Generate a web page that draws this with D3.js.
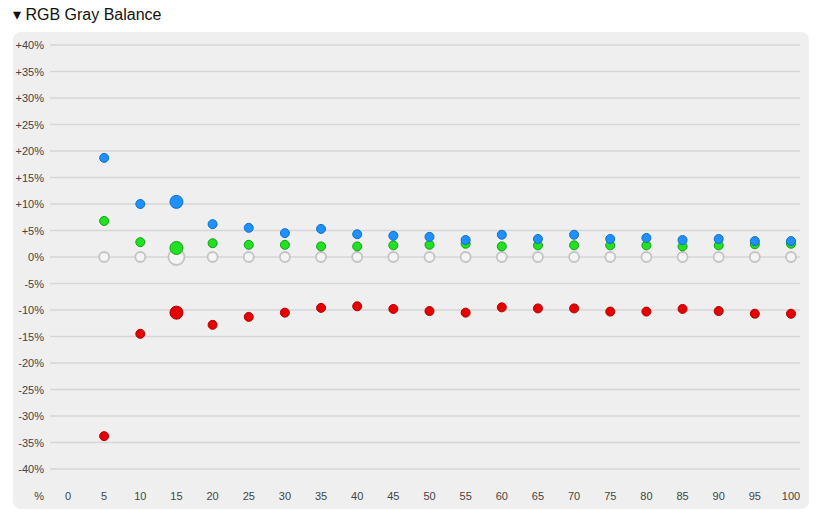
<!DOCTYPE html><html><head><script src="https://cdn.jsdelivr.net/npm/d3@7"></script>
<style>body{margin:0;background:#fff;font-family:Arial,"Liberation Sans",sans-serif}</style></head><body><svg id="c" width="829" height="524"></svg>
<script>
const xs=[5,10,15,20,25,30,35,40,45,50,55,60,65,70,75,80,85,90,95,100];
const blue=[18.7,10,10.4,6.2,5.5,4.5,5.3,4.3,4.0,3.8,3.2,4.2,3.4,4.2,3.4,3.6,3.2,3.4,3.0,3.0];
const green=[6.8,2.8,1.7,2.6,2.3,2.3,2.0,2.0,2.2,2.3,2.5,2.0,2.2,2.2,2.2,2.2,2.0,2.2,2.4,2.5];
const red=[-33.8,-14.5,-10.5,-12.8,-11.3,-10.5,-9.6,-9.3,-9.8,-10.2,-10.5,-9.5,-9.7,-9.7,-10.3,-10.3,-9.8,-10.2,-10.7,-10.7];
const gray=xs.map(()=>0);
const yTicks=[40,35,30,25,20,15,10,5,0,-5,-10,-15,-20,-25,-30,-35,-40];
const xTicks=[0,5,10,15,20,25,30,35,40,45,50,55,60,65,70,75,80,85,90,95,100];
const hi=15;
const svg=d3.select("#c");
svg.append("text").attr("x",13).attr("y",20).attr("font-size",16).attr("fill","#111").text("▾ RGB Gray Balance");
svg.append("rect").attr("x",13).attr("y",32).attr("width",796).attr("height",477).attr("rx",8).attr("fill","#efefef");
const x=d3.scaleLinear().domain([0,100]).range([68,791]);
const y=d3.scaleLinear().domain([-40,40]).range([469,45]);
const g=svg.append("g");
yTicks.forEach(t=>{
 g.append("line").attr("x1",50).attr("x2",800).attr("y1",y(t)).attr("y2",y(t)).attr("stroke","#d6d6d6").attr("stroke-width",1.5);
 g.append("text").attr("x",44).attr("y",y(t)+4).attr("text-anchor","end").attr("font-size",11).attr("fill","#444").text((t>0?"+":"")+t+"%");
});
g.append("text").attr("x",44).attr("y",500).attr("text-anchor","end").attr("font-size",11).attr("fill","#444").text("%");
xTicks.forEach(t=>g.append("text").attr("x",x(t)).attr("y",500).attr("text-anchor","middle").attr("font-size",11).attr("fill","#444").text(t));
function series(vals,fill,stroke,hollow){
 svg.append("g").selectAll("circle").data(xs.map((v,i)=>[v,vals[i]])).join("circle")
 .attr("cx",d=>x(d[0])).attr("cy",d=>y(d[1])).attr("r",d=>d[0]===hi?(hollow?8:6.5):(hollow?5:4.5))
 .attr("fill",hollow?"#f4f4f4":fill).attr("stroke",stroke).attr("stroke-width",hollow?1.8:1);
}
series(gray,"none","#c4c4c4",true);
series(red,"#e60000","#b00000");
series(green,"#22e022","#11a011");
series(blue,"#1e90ff","#1070c0");
</script></body></html>
